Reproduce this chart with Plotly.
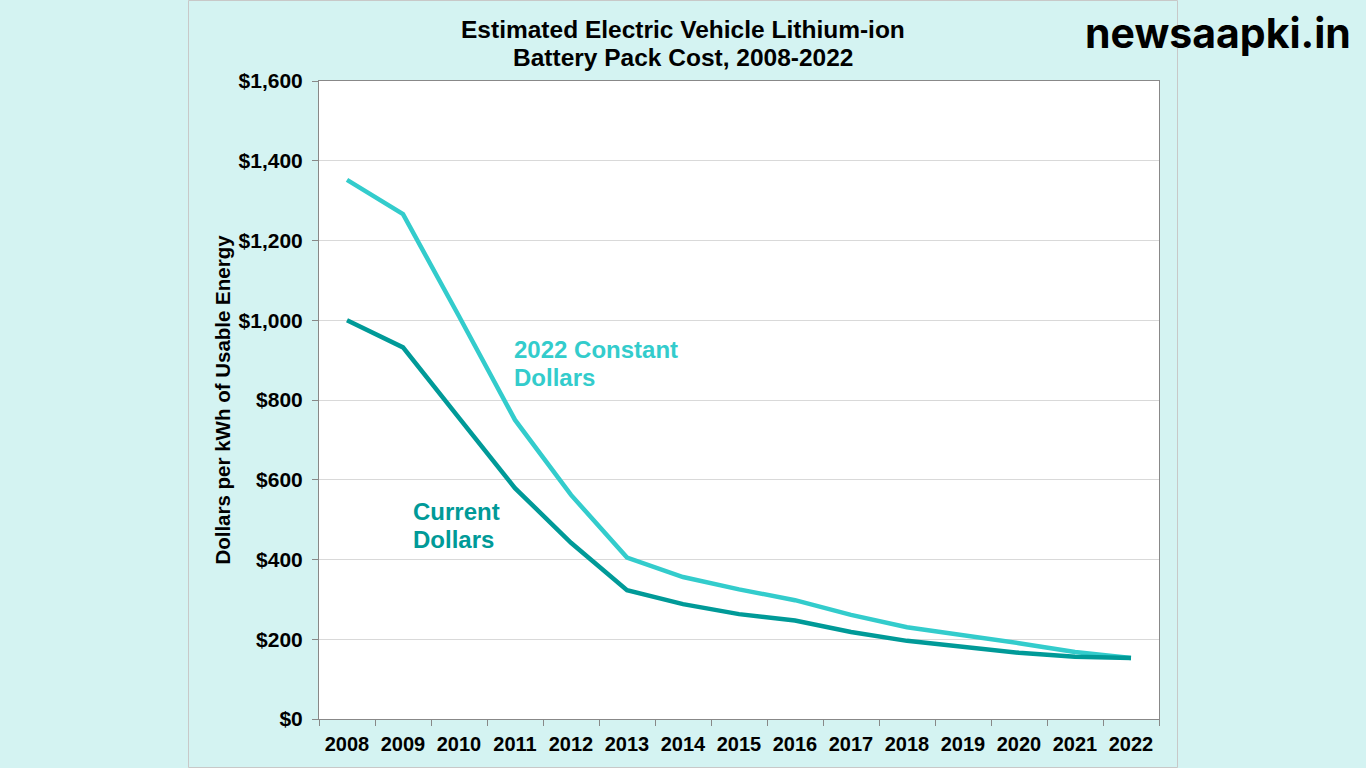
import plotly.graph_objects as go

years = [str(y) for y in range(2008, 2023)]
constant_2022 = [1352, 1266, 1010, 750, 562, 405, 356, 325, 298, 261, 230, 211, 190, 168, 153]
current = [1000, 932, 755, 579, 442, 323, 288, 263, 247, 218, 196, 182, 166, 156, 153]
y_ticks = [0, 200, 400, 600, 800, 1000, 1200, 1400, 1600]
y_labels = ["$0", "$200", "$400", "$600", "$800", "$1,000", "$1,200", "$1,400", "$1,600"]
title_lines = ["Estimated Electric Vehicle Lithium-ion", "Battery Pack Cost, 2008-2022"]

BG = "#d4f3f2"
C_CONST = "#33cccc"
C_CURR = "#009a98"
FONT = "Liberation Sans"

fig = go.Figure()
fig.add_trace(go.Scatter(x=years, y=constant_2022, mode="lines",
                         line=dict(color=C_CONST, width=4.5), name="2022 Constant Dollars"))
fig.add_trace(go.Scatter(x=years, y=current, mode="lines",
                         line=dict(color=C_CURR, width=4.5), name="Current Dollars"))

L, R, T, B = 319, 1366 - 1159, 81, 768 - 719
PW, PH = 1159 - 319, 719 - 81

def py(v):
    return (719 - v) / PH

def px(v):
    return (v - L) / PW

fig.update_layout(
    width=1366, height=768,
    margin=dict(l=L, r=R, t=T, b=B),
    paper_bgcolor=BG, plot_bgcolor="white",
    showlegend=False,
    font=dict(family=FONT, color="black"),
)

fig.update_xaxes(type="category", tickson="boundaries", ticks="outside", ticklen=6,
                 tickcolor="#888888", showline=True, linecolor="#888888", linewidth=1,
                 mirror=True, showgrid=False, range=[-0.5, 14.5], ticklabelstandoff=7,
                 tickfont=dict(family=FONT, size=20, color="black", weight="bold"))
fig.update_yaxes(range=[0, 1600], tickvals=y_ticks, ticktext=y_labels, ticks="outside",
                 ticklen=6, tickcolor="#888888", showline=True, linecolor="#888888",
                 linewidth=1, mirror=True, showgrid=True, gridcolor="#d9d9d9",
                 gridwidth=1, zeroline=False, ticklabelstandoff=5,
                 tickfont=dict(family=FONT, size=21, color="black", weight="bold"),
                 title=dict(text="Dollars per kWh of Usable Energy", standoff=2,
                            font=dict(family=FONT, size=20.5, color="black", weight="bold")))

# panel border
fig.add_shape(type="rect", xref="paper", yref="paper",
              x0=px(188.5), x1=px(1177.5), y0=py(767.5), y1=py(0.5),
              line=dict(color="#c8c8c8", width=1), fillcolor="rgba(0,0,0,0)", layer="below")

for txt, yc in zip(title_lines, [29, 57]):
    fig.add_annotation(x=px(683), y=py(yc), xref="paper", yref="paper",
                       xanchor="center", yanchor="middle", showarrow=False, text=txt,
                       font=dict(family=FONT, size=24.5, color="black", weight="bold"))

for txt, yc in zip(["2022 Constant", "Dollars"], [349, 377]):
    fig.add_annotation(x=px(512), y=py(yc), xref="paper", yref="paper", xanchor="left",
                       yanchor="middle", align="left", showarrow=False, text=txt,
                       font=dict(family=FONT, size=24, color=C_CONST, weight="bold"))
for txt, yc in zip(["Current", "Dollars"], [511, 539]):
    fig.add_annotation(x=px(411), y=py(yc), xref="paper", yref="paper", xanchor="left",
                       yanchor="middle", align="left", showarrow=False, text=txt,
                       font=dict(family=FONT, size=24, color=C_CURR, weight="bold"))

fig.add_annotation(x=px(1353), y=py(33), xref="paper", yref="paper",
                   xanchor="right", yanchor="middle", showarrow=False, text="newsaapki.in",
                   font=dict(family="Inter", size=41, color="black", weight="bold"))

fig.write_html("out.html", config={"displayModeBar": False},
               post_script="document.body.style.margin='0';document.body.style.background='%s';" % BG)
